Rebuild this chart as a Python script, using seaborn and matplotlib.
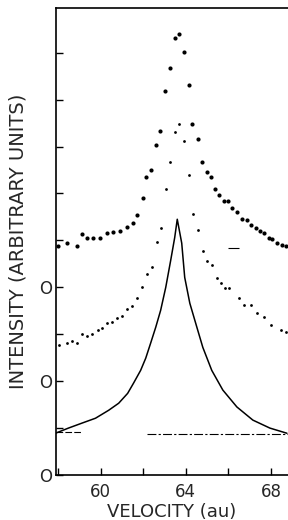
import numpy as np
import pandas as pd
import matplotlib
matplotlib.use("Agg")
import matplotlib.pyplot as plt
import seaborn as sns

# solid curve (baseline 0)
solid_v = [57.88, 58.49, 59.15, 59.76, 60.38, 60.85, 61.27, 61.55, 61.88, 62.12, 62.35,
           62.59, 62.82, 63.06, 63.29, 63.48, 63.60, 63.81, 63.95, 64.19, 64.52, 64.80,
           65.22, 65.74, 66.40, 67.15, 67.95, 68.75]
solid_i = [0.89, 1.00, 1.11, 1.21, 1.38, 1.53, 1.74, 1.96, 2.23, 2.49, 2.81,
           3.15, 3.51, 4.00, 4.57, 5.06, 5.45, 4.94, 4.21, 3.66, 3.15, 2.72,
           2.23, 1.81, 1.45, 1.17, 1.00, 0.89]

# small dots (offset 2)
mid_v = [58.07, 58.40, 58.64, 58.87, 59.11, 59.34, 59.58, 59.86, 60.05, 60.28, 60.52,
         60.75, 60.99, 61.22, 61.46, 61.69, 61.93, 62.16, 62.40, 62.64, 62.82, 63.06,
         63.25, 63.48, 63.67, 63.91, 64.14, 64.33, 64.56, 64.80, 64.99, 65.22, 65.46,
         65.65, 65.84, 66.02, 66.49, 66.73, 67.06, 67.34, 67.67, 68.00, 68.47, 68.71]
mid_i = [2.77, 2.81, 2.85, 2.81, 3.00, 2.96, 3.00, 3.09, 3.13, 3.23, 3.26,
         3.34, 3.38, 3.53, 3.60, 3.77, 4.00, 4.28, 4.43, 4.96, 5.26, 6.10,
         6.66, 7.30, 7.47, 7.11, 6.40, 5.57, 5.23, 4.77, 4.55, 4.47, 4.19,
         4.09, 3.98, 3.98, 3.77, 3.62, 3.62, 3.45, 3.36, 3.19, 3.09, 3.04]

# large dots (offset 4)
top_v = [57.98, 58.40, 58.87, 59.11, 59.34, 59.62, 59.95, 60.28, 60.56, 60.89, 61.22,
         61.51, 61.69, 61.98, 62.12, 62.35, 62.59, 62.78, 63.01, 63.25, 63.48, 63.67,
         63.91, 64.14, 64.28, 64.56, 64.75, 64.99, 65.18, 65.36, 65.55, 65.79, 65.98,
         66.16, 66.40, 66.64, 66.87, 67.06, 67.29, 67.48, 67.67, 67.91, 68.05, 68.28,
         68.52, 68.71]
top_i = [4.89, 4.94, 4.89, 5.13, 5.06, 5.04, 5.06, 5.15, 5.17, 5.21, 5.28,
         5.38, 5.53, 5.91, 6.34, 6.49, 7.04, 7.32, 8.19, 8.68, 9.32, 9.40,
         9.02, 8.32, 7.49, 7.15, 6.68, 6.45, 6.34, 6.09, 5.96, 5.83, 5.83,
         5.68, 5.60, 5.45, 5.43, 5.32, 5.26, 5.21, 5.15, 5.04, 5.02, 4.94,
         4.91, 4.89]

x_major = [60, 64, 68]
x_labels = ["60", "64", "68"]
x_minor = [58, 62, 66]
y_ticks = list(range(0, 10))
zero_levels = [0, 2, 4]

sns.set_style("ticks")
plt.rcParams["font.family"] = ["DejaVu Sans"]

fig = plt.figure(figsize=(2.88, 5.2), dpi=100)
ax = fig.add_axes([0.194, 0.0865, 0.806, 0.898])

sns.lineplot(x=solid_v, y=solid_i, ax=ax, color="black", lw=1.1, sort=False)
sns.scatterplot(x=mid_v, y=mid_i, ax=ax, color="black", s=4, marker="o", linewidth=0)
sns.scatterplot(x=top_v, y=top_i, ax=ax, color="black", s=9, marker="o", linewidth=0)

# background markers
ax.hlines(0.88, 62.2, 68.8, colors="black", lw=0.8, linestyles=(0, (8, 2, 2, 2)))
ax.hlines(0.92, 57.9, 59.1, colors="black", lw=0.8, linestyles=(0, (6, 2)))
ax.hlines(4.83, 66.0, 66.5, colors="black", lw=0.8)

ax.set_xlim(57.9, 68.8)
ax.set_ylim(0, 9.95)

ax.set_xticks(x_major)
ax.set_xticklabels(x_labels, fontsize=12)
ax.set_xticks(x_minor, minor=True)
ax.set_yticks(y_ticks)
ax.set_yticklabels(["O" if t in zero_levels else "" for t in y_ticks], fontsize=12)
ax.tick_params(axis="both", which="both", direction="in", length=5, width=1,
               color="black", top=False, right=False)
ax.tick_params(axis="x", pad=6)
ax.tick_params(axis="y", pad=3)

for side in ["left", "bottom", "top"]:
    ax.spines[side].set_color("black")
    ax.spines[side].set_linewidth(1.2)
ax.spines["right"].set_visible(False)

ax.set_xlabel("VELOCITY (au)", fontsize=13, labelpad=1)
ax.set_ylabel("INTENSITY (ARBITRARY UNITS)", fontsize=14, labelpad=8)

fig.savefig("out.png", dpi=100)
